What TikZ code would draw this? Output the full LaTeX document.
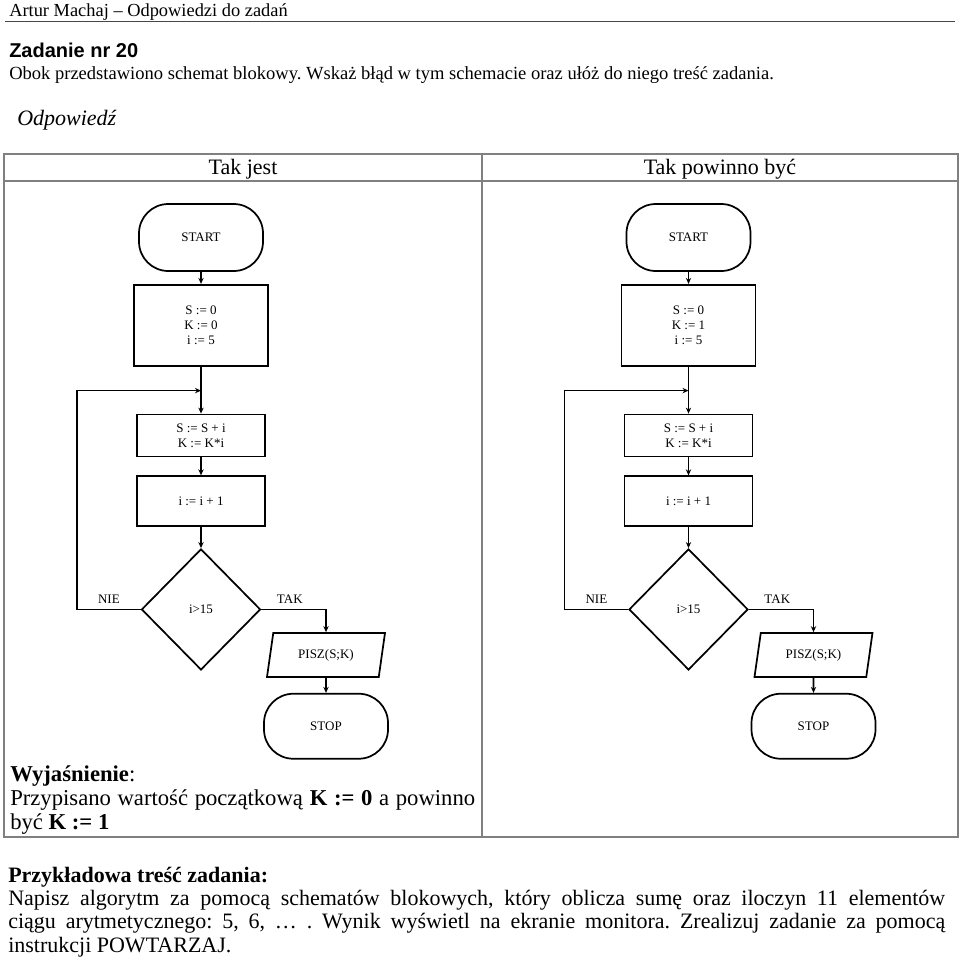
\documentclass[tikz,border=0pt]{standalone}
\usepackage{fontspec}
\setmainfont{Liberation Serif}
\newfontfamily\headsans{Liberation Sans}
\usetikzlibrary{
  arrows.meta,
  shapes.geometric,
  positioning,
  calc
}
\definecolor{tgray}{RGB}{128,128,128}
\definecolor{rgray}{RGB}{70,70,70}
\newcommand{\flowfont}{\fontsize{9.75pt}{11.25pt}\selectfont}
\frenchspacing
\tikzset{
  term/.style={
    rectangle, rounded corners=22pt, draw, line width=1.3pt,
    minimum width=93pt, minimum height=50.25pt,
    inner sep=0pt, font=\flowfont
  },
  proc/.style={
    rectangle, draw, line width=1.3pt,
    minimum width=96pt, inner sep=0pt,
    font=\flowfont, align=center
  },
  dec/.style={
    diamond, draw, line width=1.3pt,
    minimum width=89.25pt, minimum height=90.75pt,
    inner sep=0pt, font=\flowfont
  },
  io/.style={
    trapezium, trapezium left angle=62, trapezium right angle=118,
    trapezium stretches body, draw, line width=1.3pt,
    minimum width=88.5pt, minimum height=33pt,
    inner sep=0pt, font=\flowfont
  },
  lbl/.style={font=\flowfont, inner sep=4pt},
  cell/.style={tgray, line width=1.1pt},
  txt/.style={anchor=base west, inner sep=0pt},
  arr/.style={-{Stealth[length=4.5pt, width=4pt]}, line width=1.2pt}
}

\begin{document}
\begin{tikzpicture}[x=0.75pt, y=-0.75pt]
    \useasboundingbox (0,0) rectangle (960,964);

    %% ---- Header ----------------------------------------------------
    \node[txt, font=\fontsize{13.8pt}{15pt}\selectfont] (auth) at (9,16)
      {Artur Machaj – Odpowiedzi do zadań};
    \draw[rgray, line width=1pt] (5,21.5) -- (955,21.5);

    \node[txt, font=\headsans\bfseries\fontsize{15pt}{17pt}\selectfont]
      (zad) at (9,57) {Zadanie nr 20};
    \node[txt, font=\fontsize{13.9pt}{16pt}\selectfont] (pol) at (9,79)
      {Obok przedstawiono schemat blokowy. Wskaż błąd w tym schemacie oraz ułóż do niego treść zadania.};
    \node[txt, font=\itshape\fontsize{16.5pt}{18pt}\selectfont] (odp)
      at (17,125) {Odpowiedź};

    %% ---- Table -----------------------------------------------------
    \draw[cell] (4,154) rectangle (958,837);
    \draw[cell] (4,181) -- (958,181);
    \draw[cell] (482,154) -- (482,837);
    \node[anchor=base, inner sep=0pt, font=\fontsize{16.5pt}{18pt}\selectfont]
      (hj) at (243,174) {Tak jest};
    \node[anchor=base, inner sep=0pt, font=\fontsize{16.5pt}{18pt}\selectfont]
      (hp) at (720,174) {Tak powinno być};

    %% ---- LEFT: Tak jest --------------------------------------------
    \node[term] (jstart) at (201,237.5) {START};
    \node[proc, minimum width=100.5pt, minimum height=60.75pt,
          below=9pt of jstart] (jinit) {S := 0\\K := 0\\i := 5};
    \coordinate[below=18pt of jinit] (jjoin);
    \node[proc, minimum height=31.5pt, below=17.25pt of jjoin] (jbody)
      {S := S + i\\K := K*i};
    \node[proc, minimum height=37.5pt, below=13.5pt of jbody] (jinc)
      {i := i + 1};
    \node[dec, below=15.75pt of jinc] (jif) {i>15};
    \node[io] (jout) at (326,655) {PISZ(S;K)};
    \node[term, minimum height=48.75pt, below=11.25pt of jout] (jstop)
      {STOP};

    \draw[arr] (jstart) -- (jinit);
    \draw[arr] (jinit) -- (jbody);
    \draw[arr] (jbody) -- (jinc);
    \draw[arr] (jinc) -- (jif);
    \draw[arr] (jif.west) -- node[lbl, above]{NIE} ++(-63.5,0) |- (jjoin);
    \draw[arr] (jif.east) -| node[lbl, above, pos=0.22]{TAK} (jout.north);
    \draw[arr] (jout) -- (jstop);

    %% ---- RIGHT: Tak powinno byc ------------------------------------
    \node[term] (pstart) at (688.5,237.5) {START};
    \node[proc, minimum width=100.5pt, minimum height=60.75pt,
          below=9pt of pstart] (pinit) {S := 0\\K := 1\\i := 5};
    \coordinate[below=18pt of pinit] (pjoin);
    \node[proc, minimum height=31.5pt, below=17.25pt of pjoin] (pbody)
      {S := S + i\\K := K*i};
    \node[proc, minimum height=37.5pt, below=13.5pt of pbody] (pinc)
      {i := i + 1};
    \node[dec, below=15.75pt of pinc] (pif) {i>15};
    \node[io] (pout) at (813.5,655) {PISZ(S;K)};
    \node[term, minimum height=48.75pt, below=11.25pt of pout] (pstop)
      {STOP};

    \draw[arr] (pstart) -- (pinit);
    \draw[arr] (pinit) -- (pbody);
    \draw[arr] (pbody) -- (pinc);
    \draw[arr] (pinc) -- (pif);
    \draw[arr] (pif.west) -- node[lbl, above]{NIE} ++(-63.5,0) |- (pjoin);
    \draw[arr] (pif.east) -| node[lbl, above, pos=0.22]{TAK} (pout.north);
    \draw[arr] (pout) -- (pstop);

    %% ---- Explanation -----------------------------------------------
    \node[txt, text width=348.75pt, align=justify,
          font=\fontsize{17pt}{18.3pt}\selectfont] (expl) at (10,781)
      {\hyphenpenalty=10000\textbf{Wyjaśnienie}:\\
       Przypisano wartość początkową \textbf{K := 0} a powinno\linebreak
       być \textbf{K := 1}};

    %% ---- Example task ----------------------------------------------
    \node[txt, text width=702.75pt, align=justify,
          font=\fontsize{16.5pt}{17.6pt}\selectfont] (task) at (8,882)
      {\hyphenpenalty=10000\textbf{Przykładowa treść zadania:}\\
       Napisz algorytm za pomocą schematów blokowych, który oblicza sumę oraz iloczyn 11 elementów\linebreak
       ciągu arytmetycznego: 5, 6, … . Wynik wyświetl na ekranie monitora. Zrealizuj zadanie za pomocą\linebreak
       instrukcji POWTARZAJ.};

\end{tikzpicture}
\end{document}
